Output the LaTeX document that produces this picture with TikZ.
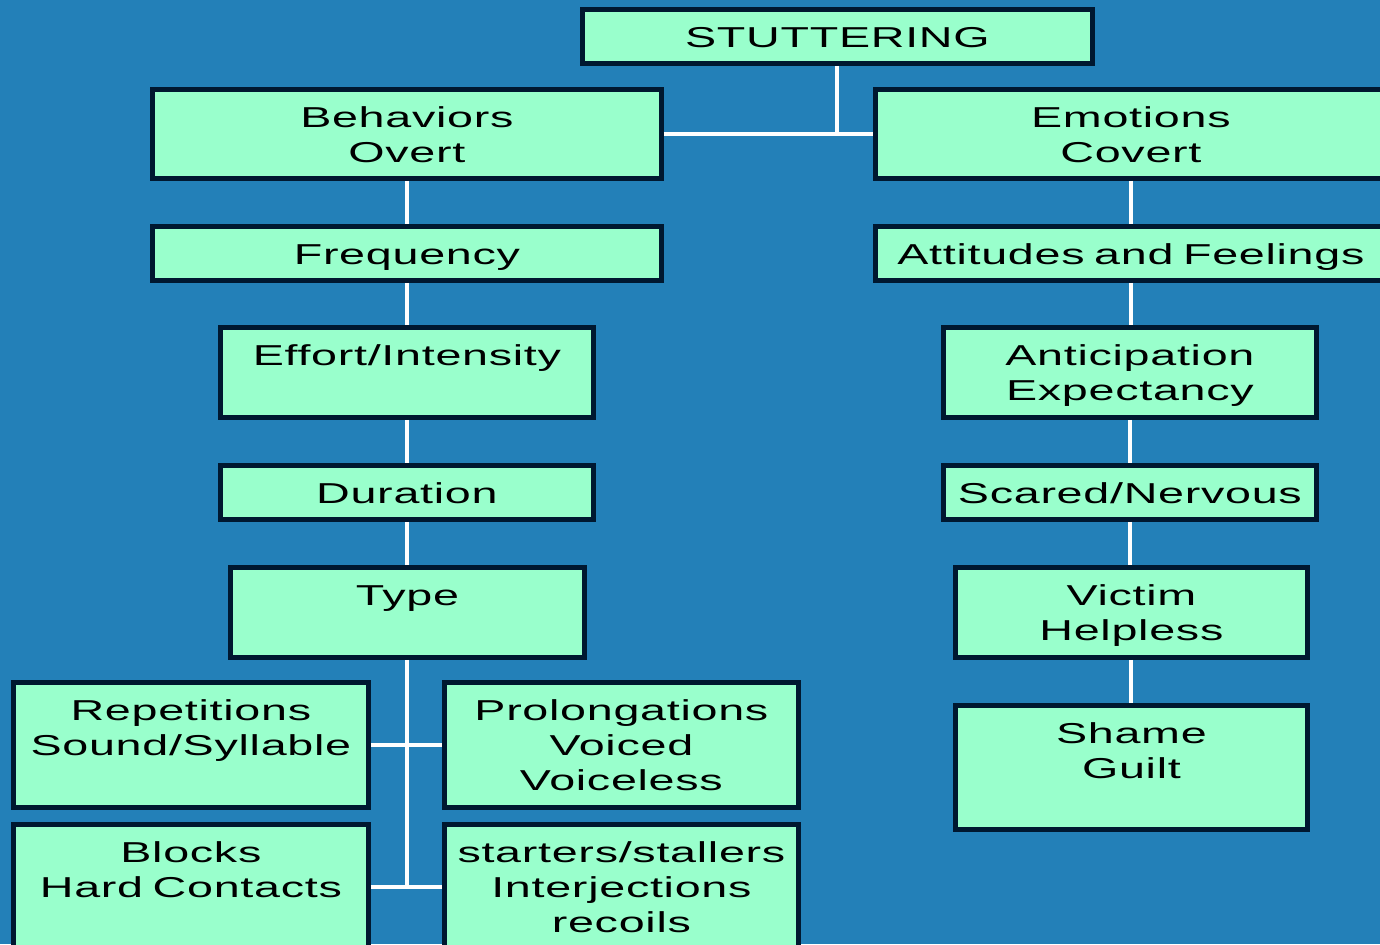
\documentclass[tikz,border=0pt]{standalone}
\usepackage{fontspec}
\newfontfamily\boxfont{Liberation Sans}[FakeStretch=1.62, LetterSpace=2.5, WordSpace=1.7]
\definecolor{bgblue}{HTML}{2380B8}
\definecolor{mint}{HTML}{99FFCC}
\definecolor{boxline}{HTML}{001830}
\tikzset{
  box/.style={draw=boxline, line width=2.4pt, fill=mint, anchor=north west,
    inner sep=0pt, align=center, text height=19pt,
    font=\boxfont\fontsize{14.4}{17.5}\selectfont},
  link/.style={draw=white, line width=2pt}
}
\begin{document}
\begin{tikzpicture}[x=0.5pt, y=-0.5pt]
    \useasboundingbox (0,0) rectangle (1380,944);
    \clip (0,0) rectangle (1380,944);
    \fill[bgblue] (0,0) rectangle (1380,944);

    \node[box, text width=255pt,   text depth=8pt]    (stut)   at (580,7)   {STUTTERING};

    \node[box, text width=254.5pt, text depth=25.5pt] (beh)    at (150,87)  {Behaviors\\Overt};
    \node[box, text width=254.5pt, text depth=8pt]    (freq)   at (150,224) {Frequency};
    \node[box, text width=186.5pt, text depth=26pt]   (eff)    at (218,325) {Effort/Intensity};
    \node[box, text width=186.5pt, text depth=8pt]    (dur)    at (218,463) {Duration};
    \node[box, text width=177pt,   text depth=26pt]   (type)   at (228,565) {Type};

    \node[box, text width=177.5pt, text depth=43.5pt] (rep)    at (11,680)  {Repetitions\\Sound/Syllable};
    \node[box, text width=177pt,   text depth=43.5pt] (prol)   at (442,680) {Prolongations\\Voiced\\Voiceless};
    \node[box, text width=177.5pt, text depth=43.5pt] (blocks) at (11,822)  {Blocks\\Hard Contacts};
    \node[box, text width=177pt,   text depth=43.5pt] (start)  at (442,822) {starters/stallers\\Interjections\\recoils};

    \node[box, text width=255.5pt, text depth=25.5pt] (emo)    at (873,87)  {Emotions\\Covert};
    \node[box, text width=255.5pt, text depth=8pt]    (att)    at (873,224) {Attitudes and Feelings};
    \node[box, text width=186.5pt, text depth=26pt]   (ant)    at (941,325) {Anticipation\\Expectancy};
    \node[box, text width=186.5pt, text depth=8pt]    (scared) at (941,463) {Scared/Nervous};
    \node[box, text width=176pt,   text depth=26pt]   (victim) at (953,565) {Victim\\Helpless};
    \node[box, text width=176pt,   text depth=43pt]   (shame)  at (953,703) {Shame\\Guilt};

    % top split
    \draw[link] (stut.south) -- (stut.south |- beh.east);
    \draw[link] (beh.east) -- (emo.west);

    % overt column
    \draw[link] (beh.south) -- (beh.south |- freq.north);
    \draw[link] (freq.south) -- (freq.south |- eff.north);
    \draw[link] (eff.south) -- (eff.south |- dur.north);
    \draw[link] (dur.south) -- (dur.south |- type.north);
    \draw[link] (type.south) -- (type.south |- blocks.east);
    \draw[link] (rep.east) -- (prol.west);
    \draw[link] (blocks.east) -- (start.west);

    % covert column
    \draw[link] (emo.south) -- (emo.south |- att.north);
    \draw[link] (att.south) -- (att.south |- ant.north);
    \draw[link] (ant.south) -- (ant.south |- scared.north);
    \draw[link] (scared.south) -- (scared.south |- victim.north);
    \draw[link] (victim.south) -- (victim.south |- shame.north);
\end{tikzpicture}
\end{document}
